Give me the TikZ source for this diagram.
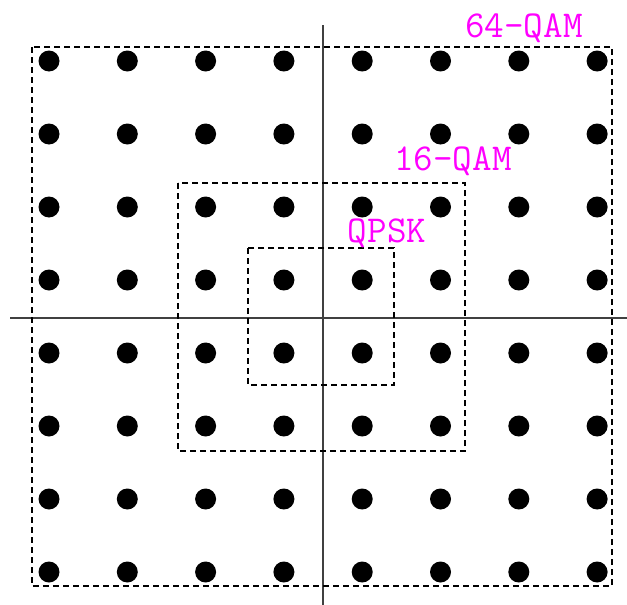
\documentclass[tikz,border=0pt]{standalone}
\usepackage{fontspec}
\usepackage{xcolor}
\definecolor{labmag}{RGB}{255,0,255}
\newcommand{\LB}{\fontsize{38}{44}\selectfont\ttfamily}

\begin{document}
\begin{tikzpicture}[x=1pt,y=-1pt]
\tikzstyle{texto}=[draw=none,fill=none,labmag,font=\LB,anchor=base,inner sep=0pt]
\tikzstyle{axis}=[black!75,line width=2pt]
\tikzstyle{box}=[black,line width=1.3pt,dash pattern=on 6pt off 4pt]
\tikzstyle{dot}=[black]

\useasboundingbox (0,0) rectangle (627,605);

\draw[axis] (10,318) -- (627,318);
\draw[axis] (323,25) -- (323,605);

\draw[box] (32,47) rectangle (612,586);
\draw[box] (178,183) rectangle (465,451);
\draw[box] (248,248) rectangle (394,385);

\foreach \i in {0,...,7}
  \foreach \j in {0,...,7}
    \fill[dot] (49+78.3*\i,61+73*\j) circle (10.5pt);

\node[texto] (lab64) at (524,37)  {64-QAM};
\node[texto] (lab16) at (453,170) {16-QAM};
\node[texto] (labqpsk) at (387,242) {QPSK};
\end{tikzpicture}
\end{document}
